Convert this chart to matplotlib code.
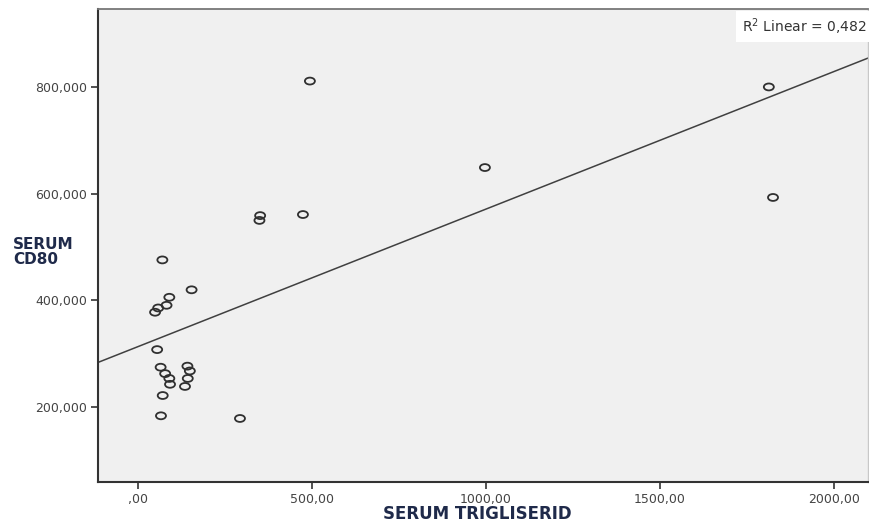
import numpy as np
import matplotlib
matplotlib.use('Agg')
import matplotlib.pyplot as plt
from matplotlib.path import Path
from matplotlib.transforms import Affine2D
from matplotlib.ticker import FuncFormatter

# values
trigliserid = [494, 1813, 997, 1825, 351, 349, 474, 70, 154, 90, 82, 58, 49,
               55, 65, 78, 90, 92, 142, 149, 143, 135, 71, 66, 293]
cd80 = [811, 800, 649, 593, 559, 550, 561, 476, 420, 406, 391, 386, 378,
        308, 275, 263, 254, 243, 277, 268, 254, 239, 222, 184, 179]
fit_intercept = 313.6
fit_slope = 0.2576
r2_text = "R$^2$ Linear = 0,482"
x_ticks = [0, 500, 1000, 1500, 2000]
y_ticks = [200, 400, 600, 800]

plt.rcParams['font.family'] = ['DejaVu Sans']

fig = plt.figure(figsize=(8.7, 5.26), dpi=100)
ax = fig.add_axes([98 / 870, 1 - 482 / 526, 770 / 870, 473 / 526])
ax.set_facecolor('#f0f0f0')

# stretched ellipse marker like the SPSS output
ellipse = Path.unit_circle().transformed(Affine2D().scale(1.45, 1.0))
ax.scatter(trigliserid, cd80, marker=ellipse, s=52, facecolors='none',
           edgecolors='#303030', linewidths=1.3, zorder=3)

ax.set_xlim(-115, 2098)
ax.set_ylim(60, 946)
xs = np.array(ax.get_xlim())
ax.plot(xs, fit_intercept + fit_slope * xs, color='#404040', lw=1.1, zorder=2)

ax.set_xticks(x_ticks)
ax.set_yticks(y_ticks)


def fmt_x(v, pos):
    s = f"{v:.2f}".replace('.', ',')
    if s.startswith('0,'):
        s = s[1:]
    return s


ax.xaxis.set_major_formatter(FuncFormatter(fmt_x))
ax.yaxis.set_major_formatter(FuncFormatter(lambda v, p: f"{v:.3f}".replace('.', ',')))
ax.tick_params(axis='both', direction='out', length=5, width=1.2, colors='#333333',
               labelsize=9, labelcolor='#444444')
ax.tick_params(axis='x', pad=3)
ax.tick_params(axis='y', pad=3)

for side in ['left', 'bottom']:
    ax.spines[side].set_color('#333333')
    ax.spines[side].set_linewidth(1.5)
ax.spines['top'].set_color('#777777')
ax.spines['top'].set_linewidth(1.3)
ax.spines['right'].set_color('#c8c8c8')
ax.spines['right'].set_linewidth(1.0)

ax.text(0.998, 0.985, r2_text, transform=ax.transAxes, ha='right', va='top',
        fontsize=10, color='#333333',
        bbox=dict(facecolor='white', edgecolor='none', boxstyle='square,pad=0.4'))

fig.text(13 / 870, 1 - 252 / 526, "SERUM\nCD80", ha='left', va='center',
         fontsize=11, fontweight='bold', color='#1f2a4a', linespacing=0.95)
fig.text(477 / 870, 1 - 514 / 526, "SERUM TRIGLISERID", ha='center', va='center',
         fontsize=12, fontweight='bold', color='#1f2a4a')

fig.savefig('out.png', dpi=100)
